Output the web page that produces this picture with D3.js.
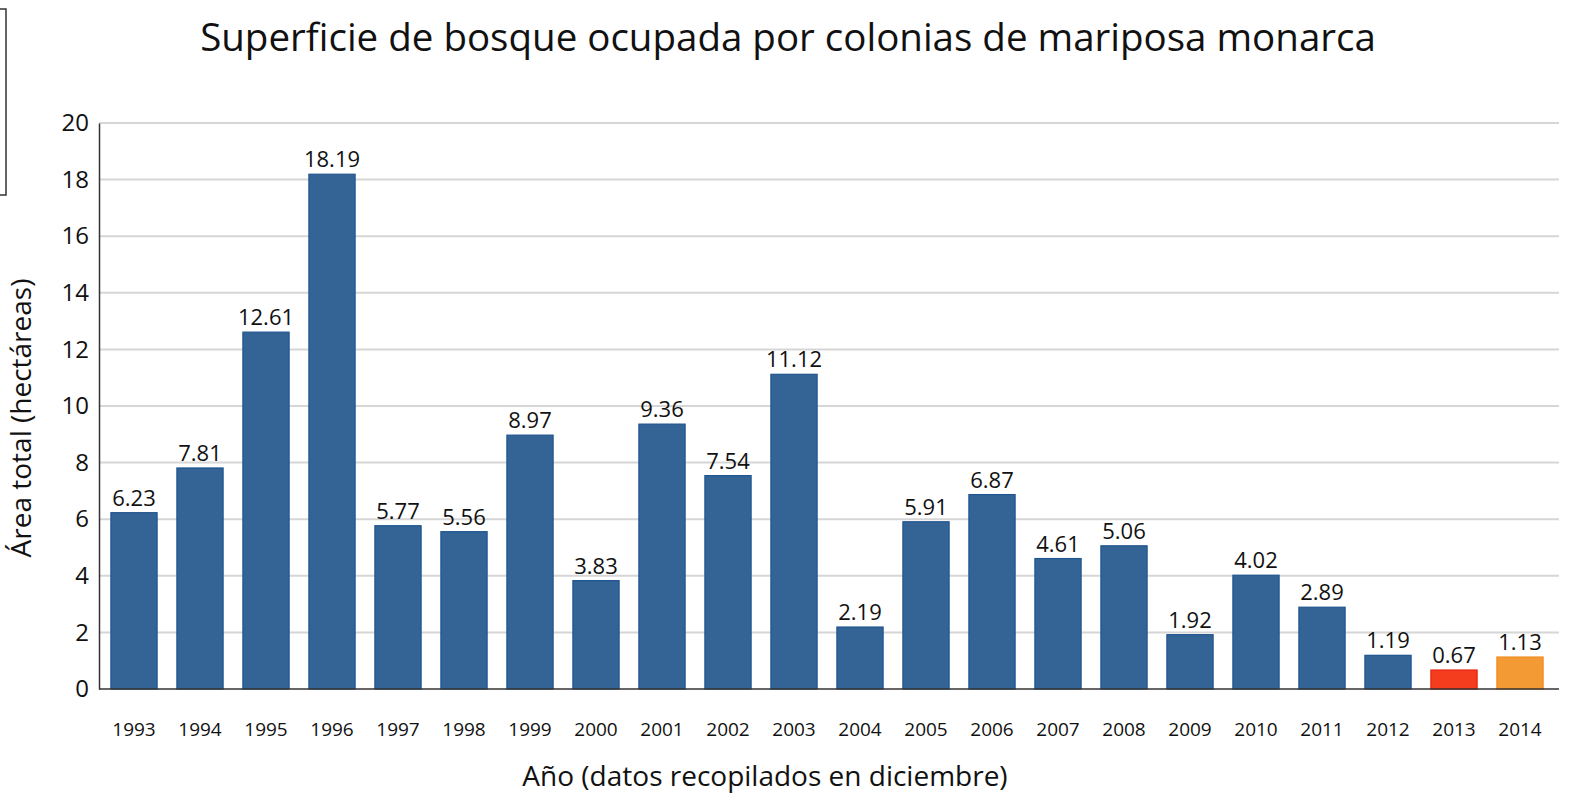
<!DOCTYPE html>
<html>
<head>
<meta charset="utf-8">
<script src="https://cdn.jsdelivr.net/npm/d3@7"></script>
<style>
  body { margin: 0; background: #fff; }
  text { font-family: "Open Sans", "Noto Sans", sans-serif; fill: #111; }
</style>
</head>
<body>
<div id="chart"></div>
<script>
var years = ["1993","1994","1995","1996","1997","1998","1999","2000","2001","2002","2003",
             "2004","2005","2006","2007","2008","2009","2010","2011","2012","2013","2014"];
var area = [6.23, 7.81, 12.61, 18.19, 5.77, 5.56, 8.97, 3.83, 9.36, 7.54, 11.12,
            2.19, 5.91, 6.87, 4.61, 5.06, 1.92, 4.02, 2.89, 1.19, 0.67, 1.13];
var yTicks = [0, 2, 4, 6, 8, 10, 12, 14, 16, 18, 20];

var width = 1574,
    height = 812;

var svg = d3.select("#chart").append("svg")
    .attr("width", width)
    .attr("height", height);

var x = d3.scaleBand()
    .domain(years)
    .range([101, 1553])
    .paddingInner(0.3)
    .paddingOuter(0.15);

var y = d3.scaleLinear()
    .domain([0, 20])
    .range([689, 123]);

function fillFor(d) {
  if (d == "2013") return "#f43c1e";
  if (d == "2014") return "#f49a34";
  return "#336495";
}
function strokeFor(d) {
  if (d == "2013") return "#e8200c";
  if (d == "2014") return "#f08c20";
  return "#1f5590";
}

// odd bracket at the left edge
svg.append("path")
    .attr("d", "M0,9 H6 V195 H0")
    .attr("fill", "none")
    .attr("stroke", "#333")
    .attr("stroke-width", 1.5);

// gridlines
svg.selectAll(".grid").data(yTicks.slice(1))
  .enter().append("line")
    .attr("class", "grid")
    .attr("x1", 99).attr("x2", 1559)
    .attr("y1", function(d) { return y(d); })
    .attr("y2", function(d) { return y(d); })
    .attr("stroke", "#d6d6d6")
    .attr("stroke-width", 2);

// bars
svg.selectAll(".bar").data(years)
  .enter().append("rect")
    .attr("class", "bar")
    .attr("x", function(d) { return x(d); })
    .attr("width", x.bandwidth())
    .attr("y", function(d, i) { return y(area[i]); })
    .attr("height", function(d, i) { return y(0) - y(area[i]); })
    .attr("fill", fillFor)
    .attr("stroke", strokeFor)
    .attr("stroke-width", 1.2);

// value labels
svg.selectAll(".val").data(years)
  .enter().append("text")
    .attr("class", "val")
    .attr("x", function(d) { return x(d) + x.bandwidth() / 2; })
    .attr("y", function(d, i) { return y(area[i]) - 7; })
    .attr("text-anchor", "middle")
    .style("font-size", "22px")
    .text(function(d, i) { return area[i].toFixed(2); });

// y axis
var yAxis = svg.append("g")
    .attr("transform", "translate(99,0)")
    .call(d3.axisLeft(y).tickValues(yTicks).tickSize(0).tickPadding(10));
yAxis.select(".domain").attr("stroke", "#333").attr("stroke-width", 1.5);
yAxis.selectAll("text").style("font-size", "24px").attr("fill", "#111");

// x axis
var xAxis = svg.append("g")
    .attr("transform", "translate(0,689)")
    .call(d3.axisBottom(x).tickSize(0).tickPadding(34));
xAxis.select(".domain").attr("d", "M99,0H1559").attr("stroke", "#333").attr("stroke-width", 1.5);
xAxis.selectAll("text").style("font-size", "19px").attr("fill", "#111");

// title
svg.append("text")
    .attr("x", 788).attr("y", 51)
    .attr("text-anchor", "middle")
    .style("font-size", "38.5px")
    .text("Superficie de bosque ocupada por colonias de mariposa monarca");

// axis titles
svg.append("text")
    .attr("transform", "translate(31,418) rotate(-90)")
    .attr("text-anchor", "middle")
    .style("font-size", "28px")
    .text("Área total (hectáreas)");

svg.append("text")
    .attr("x", 765).attr("y", 786)
    .attr("text-anchor", "middle")
    .style("font-size", "28px")
    .text("Año (datos recopilados en diciembre)");
</script>
</body>
</html>
